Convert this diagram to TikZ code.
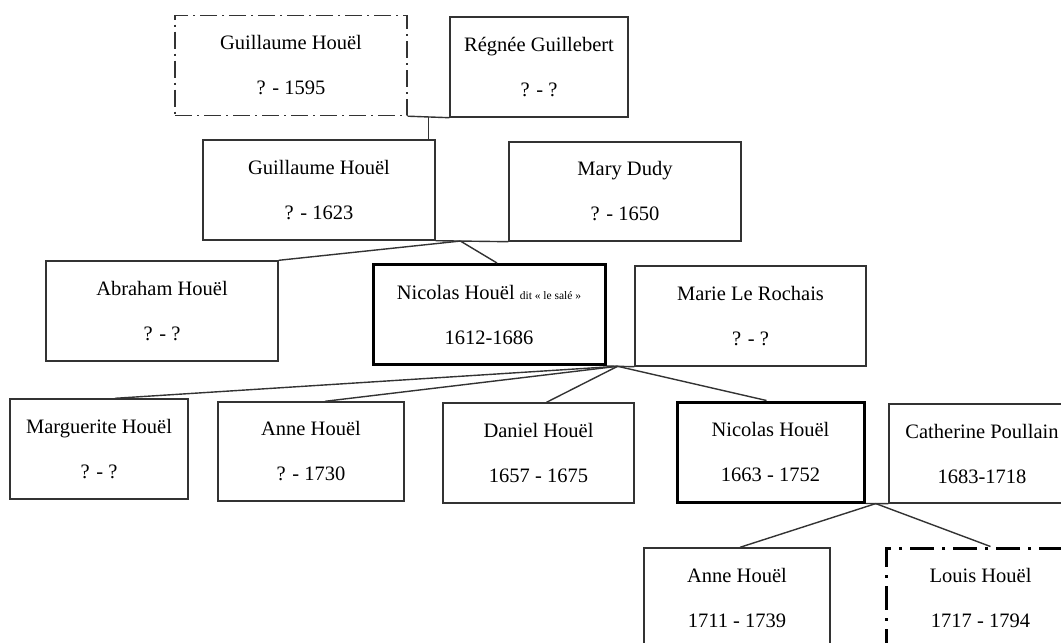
\documentclass[tikz,border=0pt]{standalone}
\usepackage{fontspec}
\setmainfont{Liberation Serif}
\usepackage{tikz}
\usetikzlibrary{calc}

\begin{document}
\begin{tikzpicture}[x=1pt,y=-1pt,line width=1.4pt,draw=black!80,
                    person/.style={rectangle,draw=black!80,line width=1.4pt,inner sep=0pt,align=center,
                                   font=\fontsize{20.5}{45}\selectfont,minimum height=100pt},
                    main person/.style={person,draw=black,line width=3pt},
                    unsure/.style={person,dash pattern=on 17pt off 5pt on 2pt off 5pt},
                    unsure main/.style={main person,dash pattern=on 24pt off 8pt on 3pt off 8pt}]

		\useasboundingbox (0,0) rectangle (1061,643);

		\node[unsure,minimum width=232pt] (1) at (291,65.5) {Guillaume Houël\\? - 1595};
		\node[person,minimum width=178pt] (2) at (539,67) {Régnée Guillebert\\? - ?};
		\node[person,minimum width=232pt] (3) at (319,190) {Guillaume Houël\\? - 1623};
		\node[person,minimum width=232pt,minimum height=99pt] (4) at (625,191.5) {Mary Dudy\\? - 1650};
		\node[person,minimum width=232pt] (5) at (162,311) {Abraham Houël\\? - ?};
		\node[main person,minimum width=232pt] (6) at (489,314.5) {Nicolas Houël {\fontsize{11.5}{12}\selectfont dit « le salé »}\\1612-1686};
		\node[person,minimum width=231pt] (7) at (750.5,316) {Marie Le Rochais\\? - ?};
		\node[person,minimum width=178pt] (8) at (99,449) {Marguerite Houël\\? - ?};
		\node[person,minimum width=186pt,minimum height=99pt] (9) at (311,451.5) {Anne Houël\\? - 1730};
		\node[person,minimum width=191pt] (10) at (538.5,453) {Daniel Houël\\1657 - 1675};
		\node[main person,minimum width=187pt] (11) at (770.5,452) {Nicolas Houël\\1663 - 1752};
		\node[person,minimum width=186pt,minimum height=99pt] (12) at (982,453.5) {Catherine Poullain\\1683-1718};
		\node[person,minimum width=186pt] (13) at (737,598) {Anne Houël\\1711 - 1739};
		\node[unsure main,minimum width=189pt] (14) at (980.5,598) {Louis Houël\\1717 - 1794};

		% couples and children
		\draw (1.south east) -- (2.south west) coordinate[pos=0.5] (m1);
		\draw (m1) -- (m1 |- 3.north);
		\draw (3.south east) -- (4.south west) coordinate[pos=0.34] (m2);
		\draw (m2) -- (5.north east);
		\draw (m2) -- ([xshift=8pt]6.north);
		\draw (6.south east) -- (7.south west) coordinate[pos=0.4] (m3);
		\draw (m3) -- ([xshift=16pt]8.north);
		\draw (m3) -- ([xshift=14pt]9.north);
		\draw (m3) -- ([xshift=8pt]10.north);
		\draw (m3) -- ([xshift=-4pt]11.north);
		\draw (11.south east) -- (12.south west) coordinate[pos=0.45] (m4);
		\draw (m4) -- ([xshift=3pt]13.north);
		\draw (m4) -- ([xshift=10pt]14.north);
	\end{tikzpicture}
\end{document}
